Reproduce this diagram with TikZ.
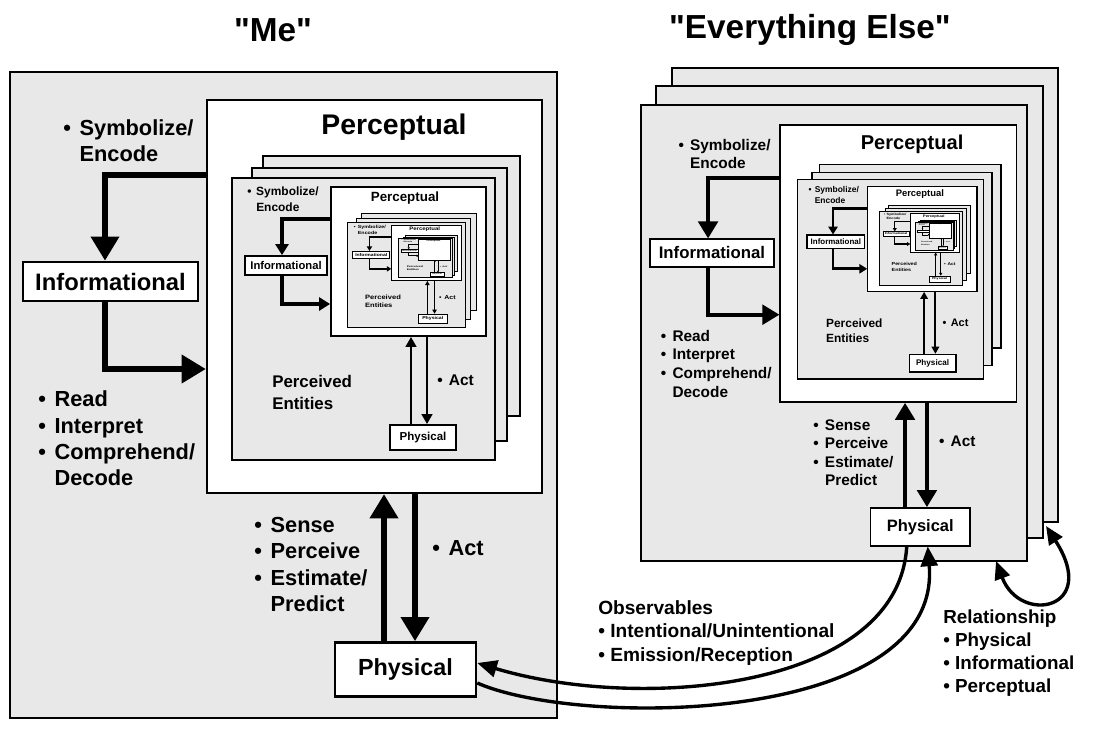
\documentclass[tikz,border=0pt]{standalone}
\usepackage{fontspec}
\setmainfont{Liberation Sans}
\usepackage{tikz}
\usetikzlibrary{arrows.meta, positioning}

\newlength\unitpx
\setlength\unitpx{0.025cm}
\newcommand\bitem{\textbullet\hspace{0.4em}}
\newcommand\fsz[2]{\fontsize{#1}{#2}\selectfont\bfseries}

\tikzset{
  % Panel styles
  panel/.style={draw=black, fill=black!9, line width=#1},
  panel/.default={1.4pt},
  percbox/.style={rectangle, draw=black, fill=white, inner sep=0pt, line width=#1},
  labbox/.style={rectangle, draw=black, fill=white, inner sep=0pt, line width=#1},
  txt/.style={inner sep=0pt, align=left, anchor=west},
  % Arrow styles
  flow/.style={line width=#1, -{Triangle[length=0pt 4, width=0pt 4.5]}},
  inflow/.style={line width=#1, -{Triangle[length=0pt 2.8, width=0pt 3.3]}},
  thinflow/.style={line width=#1, -{Triangle[length=0pt 3.4, width=0pt 3.6]}},
  obsline/.style={line width=2.4pt},
}

% nested entity (frame 263 x 282 px)
\newcommand\innerpanel[3]{%
  \draw[panel=#3*1.3pt] (31,-22) rectangle (288,238);
  \draw[panel=#3*1.3pt] (20,-10) rectangle (275,263);
  \draw[panel=#3*1.3pt] (0,0) rectangle (263,282);
  \node[percbox=#3*1.3pt, minimum width=155\unitpx, minimum height=149\unitpx] (#1perc) at (176.5,83.5) {};
  \node[inner sep=0pt, font=\fsz{9.5pt}{11pt}] (#1ptitle) at (173,20) {Perceptual};
  \node[txt, font=\fsz{8.5pt}{11.4pt}] (#1sym) at (15,21) {\bitem Symbolize/\\\phantom{\bitem}Encode};
  \node[labbox=#3*1.3pt, minimum width=82\unitpx, minimum height=19\unitpx, font=\fsz{8pt}{9pt}] (#1info) at (54,87.5) {Informational};
  \node[txt, font=\fsz{12pt}{15.6pt}] (#1pent) at (40,214) {Perceived\\Entities};
  \node[txt, font=\fsz{11pt}{13pt}] (#1act) at (205,202) {\bitem Act};
  \node[labbox=#3*1.3pt, minimum width=66\unitpx, minimum height=25\unitpx, font=\fsz{8.2pt}{9pt}] (#1phys) at (191,259.5) {Physical};
  \coordinate (#1cA) at (50,41);
  \coordinate (#1cB) at (50,126);
  \coordinate (#1cC) at (179,0);
  \coordinate (#1cD) at (195,0);
  \draw[inflow=#3*2.8pt] (#1perc.west |- #1cA) -| (#1cA |- #1info.north);
  \draw[inflow=#3*2.8pt] (#1cB |- #1info.south) |- (#1perc.west |- #1cB);
  \draw[thinflow=#3*2.1pt] (#1phys.north -| #1cC) -- (#1perc.south -| #1cC);
  \draw[thinflow=#3*2.1pt] (#1perc.south -| #1cD) -- (#1phys.north -| #1cD);
  \ifnum#2>0
    \begin{scope}[shift={(115,44)}, xscale=0.449, yscale=0.372]
      \pgfmathsetmacro\nestscale{#3*0.41}%
      \edef\nestnext{\noexpand\innerpanel{#1x}{\the\numexpr#2-1\relax}{\nestscale}}%
      \nestnext
    \end{scope}
  \fi
}

% top-level entity (frame 547 x 646 px)
\newcommand\outerpanel[2]{%
  \draw[panel] (0,0) rectangle (547,646);
  \node[percbox=#2*1.6pt, minimum width=335\unitpx, minimum height=393\unitpx] (#1perc) at (364.5,224.5) {};
  \node[inner sep=0pt, font=\fsz{20.2pt}{24pt}] (#1ptitle) at (384,55) {Perceptual};
  \node[txt, font=\fsz{15.5pt}{18.5pt}] (#1sym) at (53,69) {\bitem Symbolize/\\\phantom{\bitem}Encode};
  \node[labbox=#2*1.8pt, minimum width=175\unitpx, minimum height=39\unitpx, font=\fsz{16.9pt}{20pt}] (#1info) at (100.5,209.5) {Informational};
  \node[txt, font=\fsz{15.5pt}{18.7pt}] (#1read) at (28,366.5) {\bitem Read\\\bitem Interpret\\\bitem Comprehend/\\\phantom{\bitem}Decode};
  \node[txt, font=\fsz{15.5pt}{18.7pt}] (#1sense) at (244,492.5) {\bitem Sense\\\bitem Perceive\\\bitem Estimate/\\\phantom{\bitem}Predict};
  \node[txt, font=\fsz{15.5pt}{18pt}] (#1act) at (422,476) {\bitem Act};
  \node[labbox=#2*1.8pt, minimum width=141\unitpx, minimum height=54\unitpx, font=\fsz{16.6pt}{20pt}] (#1phys) at (395.5,597.5) {Physical};
  \coordinate (#1cA) at (95,103);
  \coordinate (#1cB) at (95,297);
  \coordinate (#1cC) at (374,0);
  \coordinate (#1cD) at (405,0);
  \draw[flow=#2*4.3pt] (#1perc.west |- #1cA) -| (#1cA |- #1info.north);
  \draw[flow=#2*4.3pt] (#1cB |- #1info.south) |- (#1perc.west |- #1cB);
  \draw[flow=#2*4.3pt] (#1phys.north -| #1cC) -- (#1perc.south -| #1cC);
  \draw[flow=#2*4.3pt] (#1perc.south -| #1cD) -- (#1phys.north -| #1cD);
  \begin{scope}[shift={(222,106)}]
    \innerpanel{#11}{2}{#2}
  \end{scope}
}

\begin{document}
\begin{tikzpicture}[x=0.025cm, y=-0.025cm]
  \useasboundingbox (0,0) rectangle (1098,732);

  % Titles
  \node[font=\fsz{23.7pt}{28pt}] (metitle) at (273,30) {\textquotedbl Me\textquotedbl};
  \node[font=\fsz{23.7pt}{28pt}] (eetitle) at (810,30) {\textquotedbl Everything Else\textquotedbl};

  % "Me"
  \begin{scope}[shift={(10,72)}, transform shape]
    \outerpanel{me}{1}
  \end{scope}

  % "Everything Else" stack
  \draw[panel] (672,68) rectangle (1058,522);
  \draw[panel] (656,86) rectangle (1043,538);
  \begin{scope}[shift={(641,105)}, scale=0.706, transform shape]
    \outerpanel{ee}{0.706}
  \end{scope}

  % Observables
  \draw[obsline, -{Triangle[length=14pt, width=12pt]}] ([xshift=-13.5\unitpx]eephys.south) .. controls (898,690) and (640,712) .. ([yshift=6.5\unitpx]mephys.east);
  \draw[obsline, -{Triangle[length=14pt, width=12pt]}] ([yshift=-13.5\unitpx]mephys.east) .. controls (580,728) and (942,725) .. ([xshift=7.5\unitpx]eephys.south);
  \node[txt, font=\fsz{13.6pt}{16.4pt}] (obs) at (598,633) {Observables\\\textbullet{} Intentional/Unintentional\\\textbullet{} Emission/Reception};

  % Relationship loop
  \coordinate (loopa) at (996,561);
  \coordinate (loopb) at (1046,526);
  \draw[obsline, {Triangle[length=13pt, width=11pt]}-{Triangle[length=13pt, width=11pt]}] (loopa) .. controls (1020,625) and (1100,610) .. (loopb);
  \node[txt, font=\fsz{13.4pt}{16.2pt}] (rel) at (943,653) {Relationship\\\textbullet{} Physical\\\textbullet{} Informational\\\textbullet{} Perceptual};
\end{tikzpicture}
\end{document}
